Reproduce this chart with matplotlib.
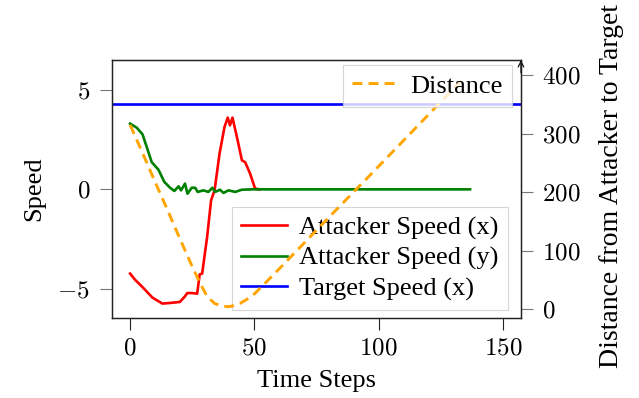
import matplotlib
matplotlib.use("Agg")
import matplotlib.pyplot as plt
from matplotlib.ticker import FuncFormatter

# ---- data ----
red_steps = [0, 2, 5, 9, 13, 16, 20, 22, 23, 25, 27, 28, 29, 31, 32.6, 34, 36, 38, 39.3, 40.2, 41.2, 43, 45, 46.3, 48.3, 50.3, 52]
red_vals = [-4.24, -4.55, -4.92, -5.45, -5.75, -5.72, -5.67, -5.4, -5.22, -5.22, -5.25, -4.28, -4.24, -2.4, -0.55, -0.05, 1.8, 3.14, 3.61, 3.22, 3.61, 2.63, 1.46, 1.37, 0.79, 0.04, 0.0]

green_steps = [0, 2.7, 5, 6.7, 8.7, 11.4, 13.8, 16.1, 17.8, 19.5, 20.5, 22.1, 23.1, 24.8, 26.2, 27.2, 29.5, 31.5, 33.1, 34.2, 36.2, 37.6, 39.6, 42.3, 44.9, 49, 136.8]
green_vals = [3.31, 3.1, 2.77, 2.13, 1.37, 0.99, 0.37, 0.08, -0.08, 0.15, -0.05, 0.29, -0.22, 0.08, 0.08, -0.13, -0.05, -0.13, 0.08, -0.13, -0.02, -0.18, -0.05, -0.13, -0.02, 0.0, 0.0]

target_speed = 4.3

dist_steps = [0, 5, 10, 15, 20, 25, 28, 31, 34, 37, 39.6, 42, 44.3, 47, 50.3, 60, 80, 100, 120, 134.8]
dist_vals = [315, 267, 218, 170, 121, 73, 46, 22, 10, 5.5, 4.4, 6.5, 10.2, 17, 27.3, 69, 157, 244, 332, 397]

x_ticks = [0, 50, 100, 150]
y_ticks = [-5, 0, 5]
y2_ticks = [0, 100, 200, 300, 400]

plt.rcParams['mathtext.fontset'] = 'cm'
plt.rcParams['font.family'] = ['Liberation Serif', 'DejaVu Serif']
FS = 19
TFS = 18

fig = plt.figure(figsize=(6.39, 3.98), dpi=100)
ax1 = fig.add_axes([0.1748, 0.2018, 0.8153 - 0.1748, 0.8492 - 0.2018])

l1, = ax1.plot(red_steps, red_vals, color='#ff0000', lw=1.9, label='Attacker Speed (x)')
l2, = ax1.plot(green_steps, green_vals, color='#008000', lw=1.9, label='Attacker Speed (y)')
l3 = ax1.axhline(target_speed, color='#0000ff', lw=1.9, label='Target Speed (x)')

ax1.set_xlim(-7.4, 157.3)
ax1.set_ylim(-6.46, 6.51)
ax1.set_xticks(x_ticks)
ax1.set_yticks(y_ticks)
fmt = FuncFormatter(lambda v, p: r'$%d$' % v)
ax1.xaxis.set_major_formatter(fmt)
ax1.yaxis.set_major_formatter(fmt)
ax1.tick_params(axis='x', direction='out', length=8.5, width=0.8, color='#222222', labelsize=TFS, pad=6)
ax1.tick_params(axis='y', direction='out', length=8.5, width=0.8, color='#777777', labelsize=TFS, pad=7)
for s in ax1.spines.values():
    s.set_linewidth(0.9)
    s.set_color('#222222')
ax1.set_xlabel('Time Steps', fontsize=FS, labelpad=7)
ax1.set_ylabel('Speed', fontsize=FS, labelpad=9)

leg1 = ax1.legend(handles=[l1, l2, l3], loc='lower right', bbox_to_anchor=(0.9675, 0.03),
                  borderaxespad=0, fontsize=FS, fancybox=False, framealpha=0.8,
                  edgecolor='#cccccc', handlelength=1.75, handletextpad=0.45,
                  labelspacing=0.25, borderpad=0.35)
leg1.get_frame().set_linewidth(0.8)

ax2 = ax1.twinx()
l4, = ax2.plot(dist_steps, dist_vals, color='#ffa500', lw=2.1, dashes=(3.4, 2.1), label='Distance')
ax2.set_ylim(-14.3, 425.6)
ax2.set_yticks(y2_ticks)
ax2.yaxis.set_major_formatter(fmt)
ax2.tick_params(axis='y', direction='out', length=8.5, width=0.8, color='#777777', labelsize=TFS, pad=6.5)
for k, s in ax2.spines.items():
    s.set_linewidth(0.9)
    s.set_color('#222222')
ax2.set_ylabel('Distance from Attacker to Target', fontsize=20, labelpad=10)
ax2.yaxis.set_label_coords(1.19, 0.51)
ax2.annotate('', xy=(1.0, 1.0), xytext=(1.0, 0.95), xycoords='axes fraction',
             arrowprops=dict(arrowstyle='->', lw=0.9, color='#111111', shrinkA=0, shrinkB=0))

leg2 = ax2.legend(handles=[l4], loc='upper right', bbox_to_anchor=(0.978, 0.981),
                  borderaxespad=0, fontsize=FS, fancybox=False, framealpha=0.8,
                  edgecolor='#cccccc', handlelength=1.75, handletextpad=0.45, borderpad=0.35)
leg2.get_frame().set_linewidth(0.8)

fig.savefig('out.png', dpi=100)
